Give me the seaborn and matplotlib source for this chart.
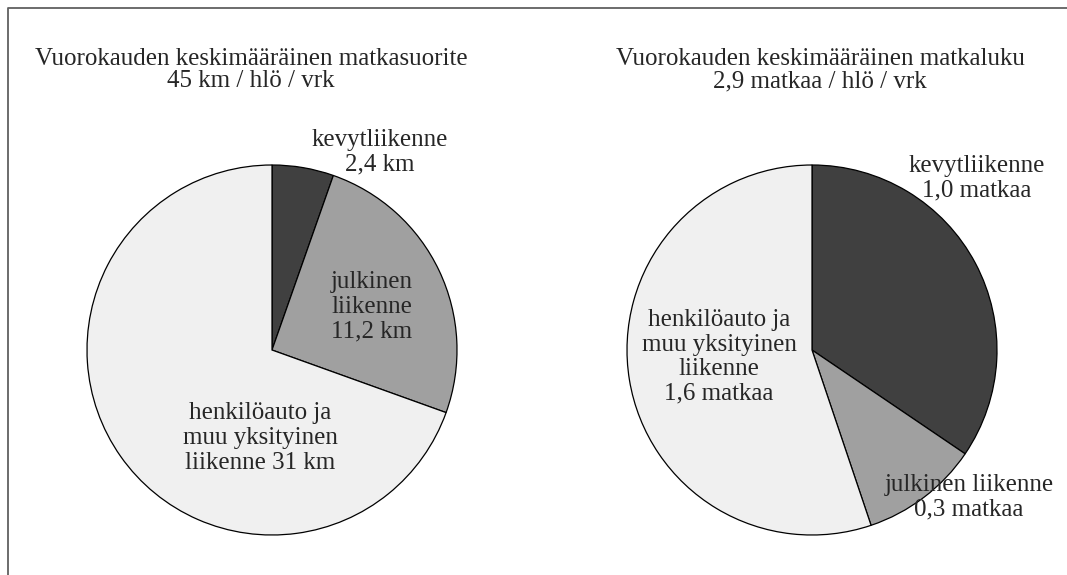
import seaborn as sns
from matplotlib import pyplot as plt
from matplotlib.lines import Line2D

# Data
modes = ["kevytliikenne", "julkinen liikenne", "henkilöauto ja muu yksityinen liikenne"]
km_values = [2.4, 11.2, 31.0]
trip_values = [1.0, 0.3, 1.6]

left_title = "Vuorokauden keskimääräinen matkasuorite\n45 km / hlö / vrk"
right_title = "Vuorokauden keskimääräinen matkaluku\n2,9 matkaa / hlö / vrk"

km_labels = ["kevytliikenne\n2,4 km",
             "julkinen\nliikenne\n11,2 km",
             "henkilöauto ja\nmuu yksityinen\nliikenne 31 km"]
trip_labels = ["kevytliikenne\n1,0 matkaa",
               "julkinen liikenne\n0,3 matkaa",
               "henkilöauto ja\nmuu yksityinen\nliikenne\n1,6 matkaa"]

colors = ["#404040", "#a0a0a0", "#f0f0f0"]

sns.set_style("white")
plt.rcParams['font.family'] = ['Liberation Serif', 'DejaVu Serif']

W, H = 1067, 575
fig = plt.figure(figsize=(W / 100, H / 100), dpi=100)
fig.patch.set_facecolor("white")

# pixel layout
R = 185
pies = [
    (272, 350, km_values, left_title, (251, 70), km_labels,
     [(380, 152), (372, 307), (260, 438)]),
    (812, 350, trip_values, right_title, (820, 70), trip_labels,
     [(977, 178), (969, 497), (719, 357)]),
]

pad = 1.01
for cx, cy, vals, title, tpos, labels, lpos in pies:
    rr = R * pad
    ax = fig.add_axes([(cx - rr) / W, (H - cy - rr) / H, 2 * rr / W, 2 * rr / H])
    ax.pie(vals, colors=colors, startangle=90, counterclock=False,
           wedgeprops=dict(edgecolor="black", linewidth=0.9))
    ax.set_xlim(-pad, pad)
    ax.set_ylim(-pad, pad)
    ax.set_axis_off()
    fig.text(tpos[0] / W, 1 - tpos[1] / H, title, ha="center", va="center",
             multialignment="center", fontsize=18, linespacing=1.0)
    for lab, (px, py) in zip(labels, lpos):
        fig.text(px / W, 1 - py / H, lab, ha="center", va="center",
                 multialignment="center", fontsize=18, linespacing=1.15)

# frame (left and top edges)
fig.add_artist(Line2D([8 / W, 8 / W, 1.0], [0.0, 1 - 8 / H, 1 - 8 / H],
                      transform=fig.transFigure, color="#606060", linewidth=1.3))

fig.savefig("out.png", dpi=100)
